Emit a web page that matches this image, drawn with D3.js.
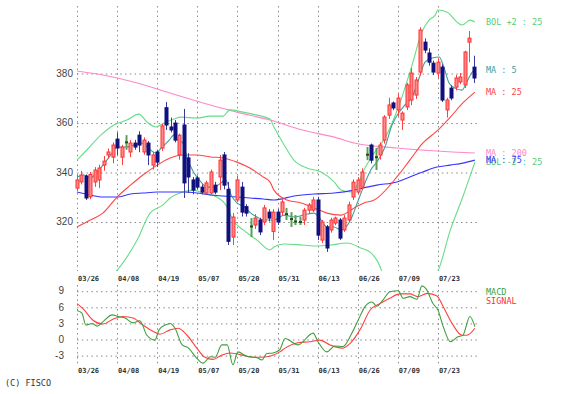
<!DOCTYPE html>
<html><head><meta charset="utf-8">
<script src="https://cdn.jsdelivr.net/npm/d3@7"></script>
<style>
body{margin:0;background:#fff;}
svg{display:block;}
</style></head><body>
<svg id="c" width="561" height="394"></svg>
<script>
// ---------- data ----------
const dateLabels = ["03/26","04/08","04/19","05/07","05/20","05/31","06/13","06/26","07/09","07/23"];
const dateLabelIdx = [0,9,18,27,36,45,54,63,72,81];
const priceTicks = [320,340,360,380];
const macdTicks = [9,6,3,0,-3];

const opens  = [333.5,336.0,338.4,330.0,336.0,336.8,342.8,346.9,346.0,353.3,346.0,352.0,348.1,351.7,354.9,348.1,351.7,342.8,348.1,349.7,366.0,358.2,359.8,346.9,359.0,345.7,336.8,337.6,333.9,331.5,331.5,334.7,338.0,346.9,333.0,313.7,328.7,333.9,326.0,318.0,318.6,320.6,319.8,323.8,316.0,323.8,323.8,323.0,321.0,320.0,319.8,320.6,324.6,324.6,328.7,312.5,317.8,316.6,319.4,320.6,316.6,320.6,329.9,331.9,333.9,347.0,350.9,346.0,346.9,352.9,363.0,367.9,365.1,361.0,366.3,369.1,371.1,380.4,392.5,388.1,384.0,380.0,382.4,365.1,373.9,374.3,376.4,375.2,392.5,382.4];
const highs  = [338.8,340.5,339.0,340.0,342.0,343.0,346.5,349.5,352.0,356.0,351.0,354.9,352.9,353.0,356.5,354.0,352.5,348.0,349.0,359.5,368.3,362.0,361.0,355.5,365.5,347.6,338.0,338.5,335.0,336.5,341.0,336.0,346.9,348.1,336.0,323.4,338.5,336.0,327.0,321.4,323.0,321.5,326.7,325.0,325.0,325.0,329.0,325.5,323.8,322.6,322.0,325.5,327.5,330.0,330.0,320.6,318.6,321.5,322.0,321.4,322.6,328.0,337.0,338.0,341.5,350.1,351.5,349.7,352.0,363.0,370.0,368.5,371.5,364.5,376.0,382.0,378.4,398.5,394.0,390.0,385.0,386.0,383.5,370.0,375.0,379.2,380.0,389.0,397.0,387.0];
const lows   = [332.3,335.0,328.7,329.0,334.0,333.5,340.5,345.5,343.5,346.9,342.8,349.0,346.0,349.0,348.0,347.0,342.8,341.0,342.0,348.5,357.0,356.0,352.0,345.0,329.5,331.5,331.0,333.0,331.0,331.0,331.0,331.0,332.7,333.0,310.5,310.5,327.9,322.0,322.0,313.7,317.0,314.5,318.6,320.0,312.5,318.6,322.6,320.6,317.8,318.6,318.6,318.6,323.0,323.8,312.5,311.3,307.7,315.5,318.5,312.5,315.8,319.8,328.7,331.0,333.0,344.8,343.5,340.8,345.0,351.5,361.5,365.0,362.5,357.0,365.0,367.0,369.5,379.0,388.0,383.0,379.2,378.0,368.3,362.0,369.0,373.0,375.5,374.0,384.4,376.0];
const closes = [336.8,338.8,329.5,339.0,340.8,341.6,344.4,348.1,350.9,349.7,350.1,352.0,351.7,350.1,350.9,352.9,346.9,346.9,344.0,358.6,359.0,357.0,352.9,354.9,335.6,338.0,332.7,333.9,331.9,335.6,340.0,331.9,344.8,334.7,312.0,321.8,336.8,323.8,323.4,318.0,321.4,315.8,325.5,321.4,323.8,319.8,327.9,323.0,321.0,320.0,319.8,324.6,326.7,328.7,314.5,319.8,309.3,320.6,321.4,313.3,321.4,326.7,335.9,336.8,340.0,347.0,344.8,346.0,350.9,362.2,367.1,365.9,369.9,363.8,375.2,380.0,377.2,397.4,389.3,384.4,380.4,384.4,369.1,369.1,369.9,378.0,378.4,388.5,394.1,378.0];

// line series: [day index, value]
const ma5 = [[0,338.0],[1.6,338.8],[3.1,337.6],[4.3,339.6],[6,343.2],[7.6,346.9],[9,350.1],[11,350.1],[12.8,350.9],[14.6,351.7],[16,349.7],[17.7,347.7],[18.9,349.7],[20.7,352.9],[21.8,355.0],[22.4,353.3],[23.8,351.7],[24.7,345.7],[26.3,339.6],[27.8,336.0],[29.2,333.9],[30.8,333.9],[32.3,335.6],[33.4,336.8],[34.6,330.7],[35.9,327.5],[37.6,325.9],[39,323.4],[40.4,321.8],[42,320.6],[44.2,320.6],[46.5,322.6],[48.7,321.8],[50.8,322.6],[53.2,323.4],[54.3,321.8],[56.1,317.8],[57.7,317.8],[59.3,316.6],[60.4,317.8],[61.7,321.8],[62.9,327.5],[64,332.7],[65.1,337.6],[66.2,341.6],[67.3,344.0],[69.1,350.0],[70.7,359.0],[72.3,364.2],[73.6,367.1],[75.2,370.3],[76.8,378.0],[78.1,384.4],[79.7,386.1],[81.3,386.5],[82.4,382.0],[83.5,376.0],[84.8,373.9],[86.4,373.1],[87.5,376.4],[88.7,380.4],[89.3,381.2]];
const ma25 = [[0,317.8],[3,320.6],[5.8,323.4],[9,329.9],[12,334.7],[14.8,338.8],[18,342.8],[20.9,345.7],[23.8,346.9],[26.9,346.9],[29.9,346.1],[32.8,345.7],[35.9,344.0],[38.8,341.6],[41.8,338.0],[43.3,336.0],[44.2,332.7],[47.1,328.7],[50.3,327.5],[53.2,325.5],[56.1,323.4],[59.3,322.6],[62.2,325.5],[64.4,327.5],[66.7,328.7],[71.8,338.0],[74.7,344.8],[77.6,351.7],[80.8,356.6],[83.8,362.2],[86.6,367.9],[89.3,372.3]];
const ma75 = [[0,331.9],[3,330.7],[5.8,329.9],[9,329.9],[12,331.1],[14.8,331.5],[18,331.9],[20.9,331.9],[23.8,331.9],[26.9,331.5],[29.9,330.7],[32.8,330.3],[35.9,329.9],[38.8,329.5],[41.8,329.1],[44.2,328.7],[48.7,330.3],[53.2,331.1],[57.7,331.5],[62.2,332.7],[65.1,333.9],[67.3,334.7],[71.8,336.0],[74.7,338.0],[77.6,340.0],[80.8,342.0],[83.8,342.8],[86.6,343.6],[89.3,344.8]];
const ma200 = [[0,380.8],[5.8,379.2],[13.5,376.0],[20.9,371.9],[28.3,367.9],[35.9,364.2],[43.3,361.0],[50.6,357.0],[58.5,353.7],[62.2,351.7],[71.8,349.7],[80.8,348.5],[89.3,347.7]];
const bolUp = [[0,344.8],[2.2,348.9],[5.4,355.0],[8.3,359.0],[11.2,361.0],[13.9,363.4],[15.7,360.2],[17.7,358.2],[19.5,359.8],[21.8,361.4],[23.3,362.2],[26.9,361.8],[29.9,362.6],[32.8,362.6],[34.3,365.1],[37.3,364.2],[40.4,363.0],[43.3,361.4],[44.2,358.2],[46.5,350.9],[48.7,344.8],[51.6,341.6],[54.8,340.0],[57.7,336.0],[59.3,332.7],[61.5,331.9],[62.9,334.7],[64.4,340.8],[66.7,347.7],[69.1,353.7],[72.3,367.1],[75.2,383.2],[77.4,396.6],[79,401.4],[80.4,403.4],[81,405.5],[83.1,404.6],[85.3,400.6],[86.4,399.4],[88.2,401.4],[89.3,400.6]];
const bolDn = [[0,291.0],[5.8,295.0],[9.4,301.2],[13.5,312.5],[16.4,323.4],[19.3,326.7],[20.9,329.5],[23.8,331.9],[26.1,332.7],[28.3,331.5],[31.4,329.9],[33.7,325.9],[35,320.6],[37.3,316.6],[40.4,312.5],[43.3,308.5],[44.2,309.7],[46.5,310.9],[50.6,310.5],[53.9,310.1],[57,310.5],[60.6,311.3],[63.7,309.3],[66,307.3],[67.3,304.4],[70,294.0],[75,290.0],[79,296.0],[81,300.0],[83.8,316.6],[86.6,330.0],[89.3,344.0]];
const macd = [[0,5.3],[1.1,4.8],[2,2.6],[3.4,2.9],[4.5,2.4],[5.8,3.2],[7.9,4.5],[9.2,4.2],[10.8,3.9],[12.6,3.0],[14.1,3.4],[15.7,0.7],[17.5,-0.2],[18.4,1.7],[19.8,2.6],[20.9,2.9],[22,2.0],[23.6,-1.1],[24.9,-1.6],[26.9,-3.6],[28.3,-4.5],[29.9,-3.3],[31,-3.4],[32.5,-1.1],[33.7,-1.1],[35,-4.8],[36.1,-2.4],[38.1,-3.2],[40.4,-3.5],[41.5,-3.9],[42.6,-2.7],[44,-2.6],[45.5,-2.0],[46.7,0.1],[49.6,-1.1],[53,1.1],[54.1,-0.5],[56.1,-2.4],[57.9,-1.3],[59.7,-1.4],[61.7,1.1],[63.1,3.5],[64.6,6.0],[66.2,6.9],[67.3,6.1],[68.7,7.3],[70.2,8.8],[72.1,9.0],[73.2,7.6],[74.7,7.9],[76.3,7.4],[77.4,9.9],[78.3,9.4],[79.9,6.6],[81,5.4],[82.2,2.3],[83.8,-0.5],[85.5,0.4],[86.6,0.7],[88.2,4.2],[89.3,2.3]];
const signal = [[0,6.6],[1.3,5.7],[3.6,3.5],[5.8,2.8],[8.1,3.7],[10.3,4.2],[12.6,3.9],[14.8,2.6],[17.1,1.4],[18.6,0.9],[20.9,1.7],[22.7,2.0],[24.7,0.7],[26.9,-1.7],[28.7,-3.4],[30.5,-3.8],[32.5,-3.0],[34.3,-2.6],[36.6,-2.9],[39.5,-3.4],[42.6,-3.3],[45.5,-2.4],[46.7,-1.7],[49.6,-0.7],[52.3,-0.5],[54.5,-0.2],[56.8,-1.1],[59.5,-1.7],[61.3,-0.8],[63.5,1.7],[65.8,5.4],[68,6.6],[70.2,7.6],[72.5,8.4],[74.7,8.4],[76.5,7.9],[78.6,8.5],[80.8,8.0],[82.2,6.0],[84.2,2.9],[86.4,0.7],[87.5,0.7],[89.3,2.0]];

// ---------- drawing ----------
const svg = d3.select("#c");
const X0 = 77, X1 = 478;
const x = d3.scaleLinear().domain([0, 90]).range([X0, X1]);
const y = d3.scaleLinear().domain([300, 407.5]).range([271, 5]);
const ym = d3.scaleLinear().domain([-4.84, 10.06]).range([365, 285]);

const defs = svg.append("defs");
defs.append("clipPath").attr("id","cp").append("rect").attr("x",X0-2).attr("y",5).attr("width",X1-X0+4).attr("height",266);
defs.append("clipPath").attr("id","cpm").append("rect").attr("x",X0-2).attr("y",283).attr("width",X1-X0+4).attr("height",84);

const gridStyle = g => g.selectAll("line").attr("stroke","#8a8a8a").attr("stroke-dasharray","1.5,3.3").attr("stroke-width",1);

// vertical grid (main + macd)
function vgrid(top, bottom){
  svg.append("g").selectAll("line").data(dateLabelIdx).join("line")
    .attr("x1", d=>Math.round(x(d))+0.5).attr("x2", d=>Math.round(x(d))+0.5)
    .attr("y1", top).attr("y2", bottom)
    .attr("stroke","#8a8a8a").attr("stroke-dasharray","1.5,3.3");
}
vgrid(6, 271);
vgrid(285, 366);

// horizontal grids via axes
const gGridP = svg.append("g").attr("transform",`translate(${X0},0)`)
  .call(d3.axisLeft(y).tickValues(priceTicks).tickSize(-(X1-X0)).tickFormat(""));
gGridP.select(".domain").remove();
gGridP.selectAll(".tick line").attr("transform","translate(0,0.5)");
gridStyle(gGridP);
const gGridM = svg.append("g").attr("transform",`translate(${X0},0)`)
  .call(d3.axisLeft(ym).tickValues(macdTicks).tickSize(-(X1-X0)).tickFormat(""));
gGridM.select(".domain").remove();
gGridM.selectAll(".tick line").attr("transform","translate(0,0.5)");
gridStyle(gGridM);

// y labels
const gYP = svg.append("g").attr("transform","translate(73,0)")
  .call(d3.axisLeft(y).tickValues(priceTicks).tickSize(0).tickPadding(0));
gYP.select(".domain").remove();
gYP.selectAll("text").attr("font-family","Liberation Sans, Arial, sans-serif").attr("font-size","10px").attr("fill","#444");
const gYM = svg.append("g").attr("transform","translate(64,0)")
  .call(d3.axisLeft(ym).tickValues(macdTicks).tickSize(0).tickPadding(0).tickFormat(d=> d<0 ? "-"+Math.abs(d) : d));
gYM.select(".domain").remove();
gYM.selectAll("text").attr("font-family","Liberation Sans, Arial, sans-serif").attr("font-size","10px").attr("fill","#444");

// date labels (top and bottom)
function dateAxis(yy){
  const g = svg.append("g").attr("transform",`translate(0,${yy})`)
    .call(d3.axisBottom(x).tickValues(dateLabelIdx).tickSize(0).tickPadding(0).tickFormat((d,i)=>dateLabels[i]));
  g.select(".domain").remove();
  g.selectAll("text").attr("text-anchor","start").attr("dy","0")
    .attr("font-family","DejaVu Sans Mono, monospace").attr("font-size","7px").attr("font-weight","bold").attr("fill","#333")
    .attr("dx","0.5");
}
dateAxis(281);
dateAxis(373);

// lines
const lineP = d3.line().x(d=>x(d[0])).y(d=>y(d[1])).curve(d3.curveMonotoneX);
const lineM = d3.line().x(d=>x(d[0])).y(d=>ym(d[1])).curve(d3.curveMonotoneX);
const gl = svg.append("g").attr("clip-path","url(#cp)");
const series = [
  {d: ma200, c:"#ff88c8", name:"MA : 200"},
  {d: bolUp, c:"#66dd88", name:"BOL +2 : 25"},
  {d: bolDn, c:"#66dd88", name:"BOL -2 : 25"},
  {d: ma75, c:"#3535ff", name:"MA : 75"},
  {d: ma25, c:"#ff4545", name:"MA : 25"},
  {d: ma5, c:"#3d9f9f", name:"MA : 5"}
];
series.forEach(s=>{
  gl.append("path").attr("d", lineP(s.d)).attr("fill","none").attr("stroke",s.c).attr("stroke-width",1.1);
});

// candles
const idx = d3.range(closes.length);
const gc = svg.append("g");
idx.forEach(i=>{
  const cx = Math.round(x(i)) + 0.5;
  const o = opens[i], c = closes[i], h = highs[i], l = lows[i];
  if (c === o) {
    gc.append("line").attr("x1",cx).attr("x2",cx).attr("y1",y(h)).attr("y2",y(l))
      .attr("stroke","#5aa05a").attr("stroke-width",2);
    gc.append("rect").attr("x",cx-1.5).attr("y",y(c)-1).attr("width",3).attr("height",2).attr("fill","#1f4f1f");
    return;
  }
  const up = c > o;
  const col = up ? "#ff3030" : "#10107e";
  gc.append("line").attr("x1",cx).attr("x2",cx).attr("y1",y(h)).attr("y2",y(l))
    .attr("stroke", up ? "#ff4040" : "#3a3a9a").attr("stroke-width",1);
  const top = y(Math.max(o,c)), bot = y(Math.min(o,c));
  gc.append("rect").attr("x",cx-1.5).attr("y",top).attr("width",3).attr("height",Math.max(1,bot-top))
    .attr("fill", up ? "#ff8a8a" : "#10107e").attr("stroke",col).attr("stroke-width",1);
});

// right-side legends at last values
const lg = svg.append("g").attr("font-family","DejaVu Sans Mono, monospace").attr("font-size","8.5px");
series.forEach(s=>{
  const last = s.d[s.d.length-1][1];
  lg.append("text").attr("x",486).attr("y", y(last)+3).attr("fill", s.c === "#66dd88" ? "#55cc77" : s.c).text(s.name);
});

// MACD panel lines
const gm = svg.append("g").attr("clip-path","url(#cpm)");
gm.append("path").attr("d", lineM(signal)).attr("fill","none").attr("stroke","#ff4040").attr("stroke-width",1.1);
gm.append("path").attr("d", lineM(macd)).attr("fill","none").attr("stroke","#3f9f3f").attr("stroke-width",1.1);
lg.append("text").attr("x",486).attr("y",295).attr("fill","#3f9f3f").text("MACD");
lg.append("text").attr("x",486).attr("y",304).attr("fill","#ff3030").text("SIGNAL");

svg.append("text").attr("x",5).attr("y",386).attr("font-family","DejaVu Sans Mono, monospace")
  .attr("font-size","8.5px").attr("fill","#333").text("(C) FISCO");
</script>
</body></html>
